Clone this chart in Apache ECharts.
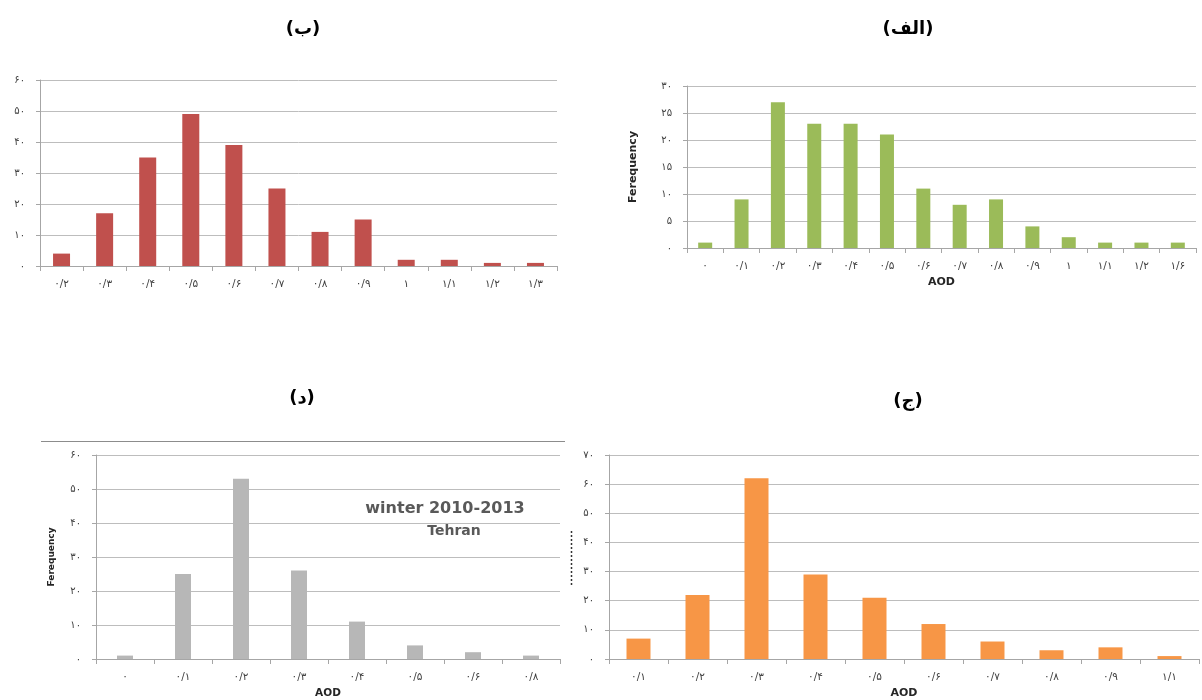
<!DOCTYPE html>
<html>
<head>
<meta charset="utf-8">
<script src="https://cdn.jsdelivr.net/npm/echarts@6/dist/echarts.min.js"></script>
<style>
html, body { margin: 0; padding: 0; background: #fff; }
#chart { width: 1202px; height: 700px; }
</style>
</head>
<body>
<div id="chart"></div>
<script>
// AOD frequency histograms for four seasons, Tehran 2010-2013

// (الف)
const aodA = [0, 0.1, 0.2, 0.3, 0.4, 0.5, 0.6, 0.7, 0.8, 0.9, 1, 1.1, 1.2, 1.6];
const freqA = [1, 9, 27, 23, 23, 21, 11, 8, 9, 4, 2, 1, 1, 1];

// (ب)
const aodB = [0.2, 0.3, 0.4, 0.5, 0.6, 0.7, 0.8, 0.9, 1, 1.1, 1.2, 1.3];
const freqB = [4, 17, 35, 49, 39, 25, 11, 15, 2, 2, 1, 1];

// (ج)
const aodC = [0.1, 0.2, 0.3, 0.4, 0.5, 0.6, 0.7, 0.8, 0.9, 1.1];
const freqC = [7, 22, 62, 29, 21, 12, 6, 3, 4, 1];

// (د) winter
const aodD = [0, 0.1, 0.2, 0.3, 0.4, 0.5, 0.6, 0.8];
const freqD = [1, 25, 53, 26, 11, 4, 2, 1];

// y-axis ranges [max, interval]
const yRangeA = [30, 5];
const yRangeB = [60, 10];
const yRangeC = [70, 10];
const yRangeD = [60, 10];

const panelTitles = ['(الف)', '(ب)', '(ج)', '(د)'];
const axisNameY = 'Ferequency';
const axisNameX = 'AOD';
const noteLines = ['winter 2010-2013', 'Tehran'];

const FONT = "'DejaVu Sans', sans-serif";
const persianDigits = '۰۱۲۳۴۵۶۷۸۹';
function toPersian(v) {
  const s = String(Math.round(v * 10) / 10).replace('.', '/');
  return s.replace(/[0-9]/g, d => persianDigits[+d]);
}

const panels = [
  { cats: aodB, vals: freqB, range: yRangeB, color: '#C0504D', barW: 17,
    grid: { left: 40, top: 80, width: 517, height: 186 }, yName: false, xName: false },
  { cats: aodA, vals: freqA, range: yRangeA, color: '#9BBB59', barW: 14,
    grid: { left: 687, top: 86, width: 509, height: 162 }, yName: true, xName: true, nameSize: 11 },
  { cats: aodD, vals: freqD, range: yRangeD, color: '#B7B7B7', barW: 16,
    grid: { left: 96, top: 455, width: 464, height: 205 }, yName: true, xName: true, nameSize: 9, xNameSize: 10.5 },
  { cats: aodC, vals: freqC, range: yRangeC, color: '#F79646', barW: 24,
    grid: { left: 609, top: 455, width: 590, height: 204 }, yName: false, xName: true, nameSize: 11 }
];

const grids = [], xAxes = [], yAxes = [], series = [];
panels.forEach((p, i) => {
  grids.push(Object.assign({ containLabel: false }, p.grid));
  xAxes.push({
    type: 'category', gridIndex: i,
    data: p.cats.map(toPersian),
    boundaryGap: true,
    name: p.xName ? axisNameX : '',
    nameLocation: 'middle', nameGap: 29,
    nameTextStyle: { fontFamily: FONT, fontWeight: 'bold', fontSize: p.xNameSize || p.nameSize || 10, color: '#262626' },
    axisLine: { lineStyle: { color: '#A6A6A6', width: 1 } },
    axisTick: { show: true, length: 5, lineStyle: { color: '#A6A6A6' } },
    axisLabel: { fontFamily: FONT, fontSize: 10.5, color: '#404040', margin: 13, interval: 0 },
    splitLine: { show: false }
  });
  yAxes.push({
    type: 'value', gridIndex: i, min: 0, max: p.range[0], interval: p.range[1],
    name: p.yName ? axisNameY : '',
    nameLocation: 'middle', nameRotate: 90,
    nameGap: i === 1 ? 48 : 40,
    nameTextStyle: { fontFamily: FONT, fontWeight: 'bold', fontSize: p.nameSize || 10, color: '#262626' },
    axisLine: { show: true, lineStyle: { color: '#A6A6A6', width: 1 } },
    axisTick: { show: true, length: 4, lineStyle: { color: '#A6A6A6' } },
    axisLabel: { fontFamily: FONT, fontSize: 10, color: '#404040', margin: 15, formatter: toPersian },
    splitLine: { show: true, lineStyle: { color: '#BDBDBD', width: 1 } }
  });
  series.push({
    type: 'bar', xAxisIndex: i, yAxisIndex: i,
    data: p.vals, barWidth: p.barW,
    itemStyle: { color: p.color },
    silent: true, animation: false
  });
});

const titleStyle = { fontFamily: FONT, fontSize: 18, fontWeight: 'bold', fill: '#000', align: 'center', verticalAlign: 'middle' };
const graphic = [
  { type: 'text', x: 908, y: 29, style: Object.assign({ text: panelTitles[0] }, titleStyle) },
  { type: 'text', x: 303, y: 29, style: Object.assign({ text: panelTitles[1] }, titleStyle) },
  { type: 'text', x: 908, y: 401, style: Object.assign({ text: panelTitles[2] }, titleStyle) },
  { type: 'text', x: 302, y: 398, style: Object.assign({ text: panelTitles[3] }, titleStyle) },
  { type: 'text', x: 445, y: 509, style: { text: noteLines[0], fontFamily: FONT, fontSize: 16, fontWeight: 'bold', fill: '#595959', align: 'center', verticalAlign: 'middle' } },
  { type: 'text', x: 454, y: 531, style: { text: noteLines[1], fontFamily: FONT, fontSize: 14, fontWeight: 'bold', fill: '#595959', align: 'center', verticalAlign: 'middle' } },
  // frame edge above the winter panel
  { type: 'line', shape: { x1: 41, y1: 441.5, x2: 565, y2: 441.5 }, style: { stroke: '#8C8C8C', lineWidth: 1 } },
  // clipped vertical caption beside panel (ج)
  { type: 'line', shape: { x1: 571.5, y1: 531, x2: 571.5, y2: 585 }, style: { stroke: '#333', lineWidth: 1.5, lineDash: [2, 2] } }
];

const chart = echarts.init(document.getElementById('chart'), null, { renderer: 'canvas' });
chart.setOption({
  animation: false,
  backgroundColor: '#ffffff',
  grid: grids,
  xAxis: xAxes,
  yAxis: yAxes,
  series: series,
  graphic: graphic
});
</script>
</body>
</html>
